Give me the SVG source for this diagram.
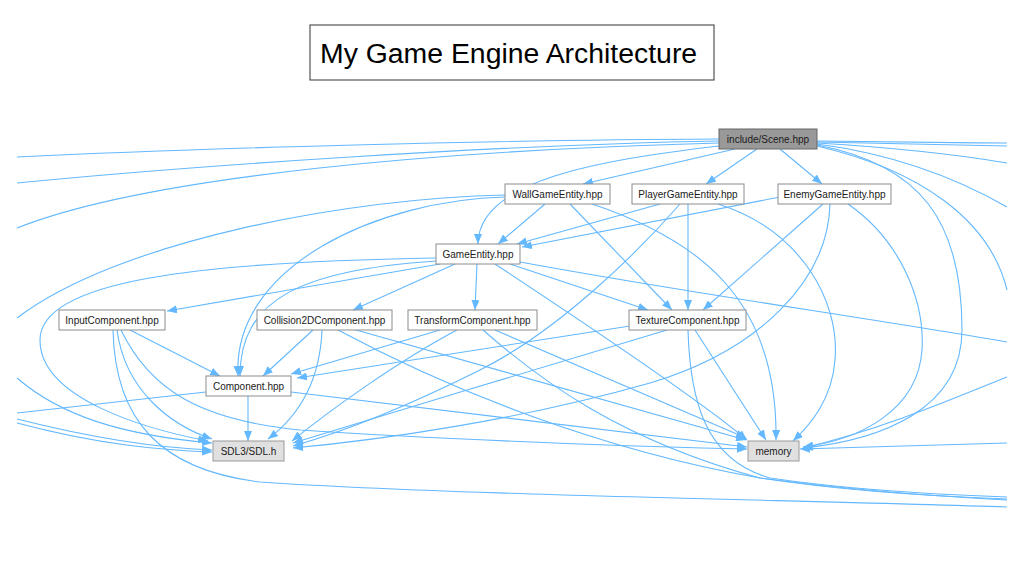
<svg xmlns="http://www.w3.org/2000/svg" width="1024" height="576" viewBox="0 0 1024 576">
<style>
.bg{fill:#ffffff}
.title-box{fill:#ffffff;stroke:#333333;stroke-width:1}
.title{font-family:"Liberation Sans",Arial,sans-serif;font-size:28.4px;fill:#000000}
.node rect{fill:#ffffff;stroke:#8c8c8c;stroke-width:1}
.node.root rect{fill:#999999;stroke:#666666}
.node.sys rect{fill:#e0e0e0;stroke:#999999}
.node text{font-family:"Liberation Sans",Arial,sans-serif;font-size:10px;fill:#1a1a1a;text-anchor:middle}
.edges path{fill:none;stroke:#63b8ff;stroke-width:1.1}
.edges path.a{marker-end:url(#arr)}
</style>
<defs>
<marker id="arr" markerUnits="userSpaceOnUse" markerWidth="11" markerHeight="8" refX="10" refY="4" orient="auto">
<path d="M0,0 L10,4 L0,8 z" fill="#63b8ff"/>
</marker>
</defs>
<rect class="bg" x="0" y="0" width="1024" height="576"/>
<g id="title">
<rect class="title-box" x="310" y="25" width="404" height="55"/>
<text class="title" x="320" y="63">My Game Engine Architecture</text>
</g>
<g class="edges" id="connectors">
<path class="a" d="M735,149 L583,184"/>
<path class="a" d="M757,149 L706,184"/>
<path class="a" d="M780,149 L822,184"/>
<path class="a" d="M719,146 C600,160 478,180 478,244"/>
<path d="M719,139 C500,140 200,148 17,157"/>
<path d="M719,141 C500,145 200,165 17,183"/>
<path d="M719,143 C450,150 150,175 17,228"/>
<path d="M817,141 C900,142 950,143 1007,143"/>
<path d="M817,142 L1007,146"/>
<path d="M817,143 C900,148 960,155 1007,163"/>
<path d="M817,144 C900,155 960,180 1007,207"/>
<path d="M817,146 C920,170 990,220 1007,290"/>
<path class="a" d="M817,145 C920,165 962,220 962,330 C962,410 880,440 803,448"/>
<path class="a" d="M545,204 L498,244"/>
<path class="a" d="M570,204 L672,310"/>
<path class="a" d="M592,204 C700,240 778,300 776,440"/>
<path d="M505,195 C350,198 120,240 17,318"/>
<path class="a" d="M505,197 C380,200 232,265 238,376"/>
<path class="a" d="M660,204 L517,244"/>
<path class="a" d="M688,204 L688,310"/>
<path class="a" d="M680,204 C640,250 560,330 480,370 C420,400 350,430 293,446"/>
<path class="a" d="M718,204 C800,230 840,300 835,360 C832,400 810,425 793,441"/>
<path class="a" d="M780,197 L522,247"/>
<path class="a" d="M823,204 L703,310"/>
<path class="a" d="M830,204 C828,280 760,350 650,383 C520,420 380,440 293,448"/>
<path class="a" d="M848,204 C900,240 925,300 922,350 C918,410 860,440 803,447"/>
<path class="a" d="M440,264 L167,311"/>
<path class="a" d="M455,264 L353,310"/>
<path class="a" d="M477,264 L475,310"/>
<path class="a" d="M510,264 L648,310"/>
<path class="a" d="M495,264 C580,320 700,400 747,440"/>
<path class="a" d="M436,261 C300,270 240,300 240,376"/>
<path class="a" d="M436,258 C200,262 40,280 40,340 C40,400 150,430 208,441"/>
<path d="M520,262 C700,295 850,315 1007,342"/>
<path class="a" d="M130,330 L220,376"/>
<path class="a" d="M117,330 C125,390 170,425 212,439"/>
<path class="a" d="M121,330 C150,390 200,420 300,430 C450,440 650,447 747,449"/>
<path d="M113,330 C115,420 160,470 260,482 C450,495 800,500 1007,507"/>
<path class="a" d="M313,330 L263,376"/>
<path class="a" d="M322,330 C320,380 300,415 268,439"/>
<path class="a" d="M356,330 L746,440"/>
<path d="M338,330 C450,390 600,450 760,478 C850,490 950,497 1007,500"/>
<path class="a" d="M440,330 L291,374"/>
<path class="a" d="M457,330 C400,360 330,410 292,441"/>
<path class="a" d="M495,330 L746,438"/>
<path d="M483,330 C540,380 620,440 760,478 C850,492 950,497 1007,499"/>
<path class="a" d="M630,326 L297,378"/>
<path class="a" d="M667,330 C600,350 400,410 293,443"/>
<path class="a" d="M695,330 L766,440"/>
<path d="M688,330 C690,400 705,460 770,478 C850,490 950,495 1007,497"/>
<path class="a" d="M248,396 L248,441"/>
<path class="a" d="M291,392 L747,447"/>
<path d="M206,392 L17,413"/>
<path class="a" d="M17,378 C60,415 120,435 212,443"/>
<path class="a" d="M17,419 C100,440 160,448 212,450"/>
<path class="a" d="M17,423 C100,445 160,450 212,452"/>
<path class="a" d="M1007,377 C950,400 880,430 803,448"/>
<path class="a" d="M1007,443 L800,449"/>
</g>
<g id="node-scene" class="node root"><rect x="719" y="129" width="98" height="20"/><text x="768" y="143">include/Scene.hpp</text></g>
<g id="node-wall" class="node"><rect x="505" y="184" width="105" height="20"/><text x="557.5" y="198">WallGameEntity.hpp</text></g>
<g id="node-player" class="node"><rect x="632" y="184" width="112" height="20"/><text x="688" y="198">PlayerGameEntity.hpp</text></g>
<g id="node-enemy" class="node"><rect x="778" y="184" width="113" height="20"/><text x="834.5" y="198">EnemyGameEntity.hpp</text></g>
<g id="node-gameentity" class="node"><rect x="436" y="244" width="84" height="20"/><text x="478" y="258">GameEntity.hpp</text></g>
<g id="node-input" class="node"><rect x="59" y="310" width="106" height="20"/><text x="112" y="324">InputComponent.hpp</text></g>
<g id="node-collision" class="node"><rect x="257" y="310" width="135" height="20"/><text x="324.5" y="324">Collision2DComponent.hpp</text></g>
<g id="node-transform" class="node"><rect x="408" y="310" width="129" height="20"/><text x="472.5" y="324">TransformComponent.hpp</text></g>
<g id="node-texture" class="node"><rect x="629" y="310" width="117" height="20"/><text x="687.5" y="324">TextureComponent.hpp</text></g>
<g id="node-component" class="node"><rect x="206" y="376" width="85" height="20"/><text x="248.5" y="390">Component.hpp</text></g>
<g id="node-sdl" class="node sys"><rect x="213" y="441" width="71" height="20"/><text x="248.5" y="455">SDL3/SDL.h</text></g>
<g id="node-memory" class="node sys"><rect x="748" y="441" width="51" height="20"/><text x="773.5" y="455">memory</text></g>
</svg>
